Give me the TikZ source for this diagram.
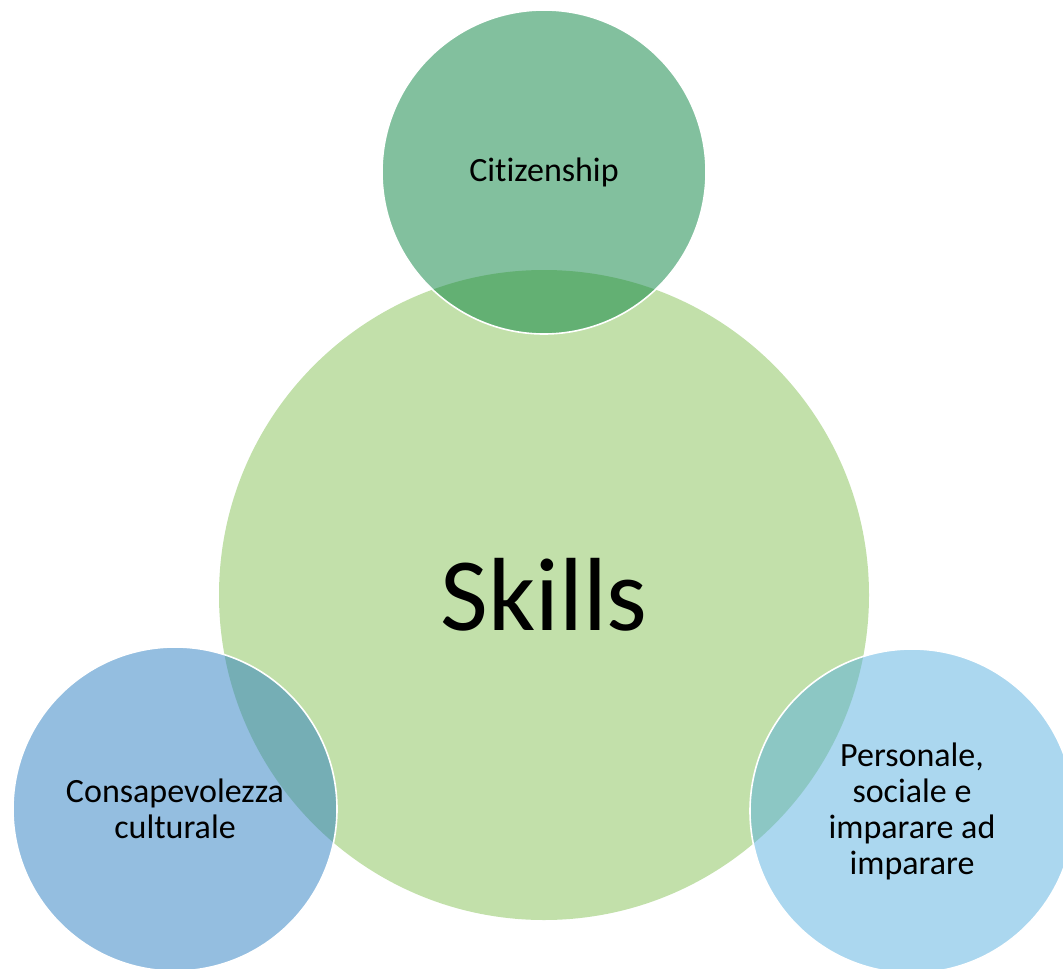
\documentclass[tikz,border=0pt]{standalone}
\usepackage{fontspec}
\setmainfont{Carlito}[RawFeature={-liga}]
\usepackage{tikz}
\usetikzlibrary{positioning}
\definecolor{skillgreen}{RGB}{194,224,170}
\definecolor{citgreen}{RGB}{6,129,61}
\definecolor{culblue}{RGB}{41,125,193}
\definecolor{perblue}{RGB}{87,175,223}

\begin{document}
\begin{tikzpicture}[x=1pt,y=-1pt,
    bigcirc/.style={circle, fill=skillgreen, inner sep=0, minimum size=650pt,
        font=\fontsize{104}{110}\selectfont},
    smallcirc/.style={circle, fill opacity=0.5, text opacity=1, draw=white, line width=1.6pt,
        inner sep=0, minimum size=324pt, align=center,
        font=\fontsize{34}{36}\selectfont}]
    \useasboundingbox (0,0) rectangle (1063,969);
    \node[bigcirc](skills) at (544,595){Skills};
    \node[smallcirc, fill=citgreen](cit) at (544,172){Citizenship};
    \node[smallcirc, fill=culblue](cul) at (175,809){Consapevolezza\\culturale};
    \node[smallcirc, fill=perblue](per) at (912,811){Personale,\\sociale e\\imparare ad\\imparare};
\end{tikzpicture}
\end{document}
